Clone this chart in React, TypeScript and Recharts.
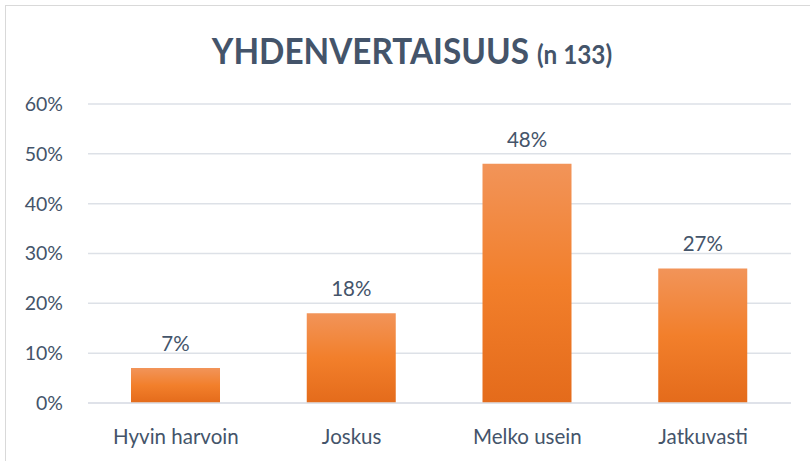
import React from 'react';
import { BarChart, Bar, XAxis, YAxis, CartesianGrid, LabelList } from 'recharts';

const categories = ['Hyvin harvoin', 'Joskus', 'Melko usein', 'Jatkuvasti'];
const shares = [7, 18, 48, 27];
const yTicks = [0, 10, 20, 30, 40, 50, 60];

const data = categories.map((name, i) => ({ name, value: shares[i] }));

const textColor = '#44546A';
const font = 'Lato, "Open Sans", sans-serif';

const App: React.FC = () => {
  return (
    <div style={{ position: 'absolute', left: 0, top: 0, width: 810, height: 461, background: '#fff', overflow: 'hidden' }}>
      <div
        style={{
          position: 'absolute',
          left: 5,
          top: 5,
          width: 820,
          height: 470,
          borderLeft: '1px solid #D9D9D9',
          borderTop: '1px solid #D9D9D9',
        }}
      />
      {/* title, squeezed a little to match the narrow original face */}
      <div
        style={{
          position: 'absolute',
          left: 7,
          top: 31,
          width: 810,
          textAlign: 'center',
          whiteSpace: 'nowrap',
          color: textColor,
          fontFamily: font,
          fontWeight: 700,
          fontSize: 37,
          lineHeight: '37px',
          transform: 'scaleX(0.9)',
        }}
      >
        YHDENVERTAISUUS <span style={{ fontSize: 27 }}>(n 133)</span>
      </div>
      <div style={{ position: 'absolute', left: 0, top: 0 }}>
        <BarChart width={810} height={461} data={data} margin={{ top: 104, right: 19, bottom: 0, left: 0 }}>
          <defs>
            <linearGradient id="orangeFill" x1="0" y1="0" x2="0" y2="1">
              <stop offset="0%" stopColor="#F29459" />
              <stop offset="50%" stopColor="#F27F2B" />
              <stop offset="100%" stopColor="#E46B1B" />
            </linearGradient>
          </defs>
          <CartesianGrid vertical={false} stroke="#DDE1E7" strokeWidth={1.5} />
          <XAxis
            dataKey="name"
            height={58}
            axisLine={{ stroke: '#DDE1E7', strokeWidth: 1.5 }}
            tickLine={false}
            tickSize={0}
            tickMargin={26}
            tick={{ fill: textColor, fontSize: 20.5, fontFamily: font }}
          />
          <YAxis
            width={88}
            domain={[0, 60]}
            ticks={yTicks}
            axisLine={false}
            tickLine={false}
            tickSize={0}
            tickMargin={25}
            tickFormatter={(v: number) => `${v}%`}
            tick={{ fill: textColor, fontSize: 19.5, fontFamily: font }}
          />
          <Bar dataKey="value" barSize={89} fill="url(#orangeFill)" isAnimationActive={false}>
            <LabelList
              dataKey="value"
              position="top"
              offset={17}
              formatter={(v: number) => `${v}%`}
              style={{ fill: textColor, fontSize: 20.5, fontFamily: font }}
            />
          </Bar>
        </BarChart>
      </div>
    </div>
  );
};

export default App;
